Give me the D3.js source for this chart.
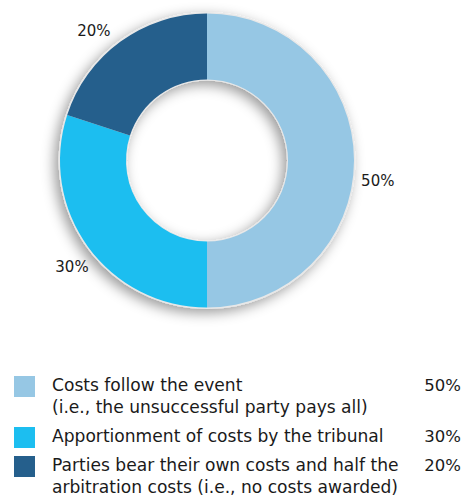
<!DOCTYPE html>
<html>
<head>
<meta charset="utf-8">
<script src="https://cdn.jsdelivr.net/npm/d3@7"></script>
<style>
  html, body { margin: 0; padding: 0; background: #ffffff; }
  svg { display: block; }
  text { font-family: "DejaVu Sans", "Liberation Sans", Arial, sans-serif; fill: #1a1a1a; }
</style>
</head>
<body>
<svg id="chart" width="464" height="497"></svg>
<script>
// Allocation of arbitration costs
const categories = [
  ["Costs follow the event", "(i.e., the unsuccessful party pays all)"],
  ["Apportionment of costs by the tribunal"],
  ["Parties bear their own costs and half the", "arbitration costs (i.e., no costs awarded)"]
];
const values = [50, 30, 20];
const colors = ["#96c7e4", "#1cbef0", "#255f8c"];

const svg = d3.select("#chart");
const cx = 207, cy = 160.5;
const outerR = 147, innerR = 81;

// Soft shadow cast toward the lower left
const defs = svg.append("defs");
const f = defs.append("filter").attr("id", "shadow")
  .attr("x", "-30%").attr("y", "-30%").attr("width", "160%").attr("height", "160%");
f.append("feDropShadow")
  .attr("dx", -4).attr("dy", 4).attr("stdDeviation", 6.5)
  .attr("flood-color", "#000").attr("flood-opacity", 0.4);

const pie = d3.pie().sort(null).value(d => d);
const arcs = pie(values);
const arc = d3.arc().innerRadius(innerR).outerRadius(outerR);

const g = svg.append("g").attr("transform", `translate(${cx},${cy})`);

// ring outline + shadow
g.append("path")
  .attr("d", d3.arc().innerRadius(innerR - 1).outerRadius(outerR + 1.5)({startAngle: 0, endAngle: 2 * Math.PI}))
  .attr("fill", "#e8e8e8")
  .attr("filter", "url(#shadow)");

g.selectAll("path.slice")
  .data(arcs)
  .join("path")
  .attr("class", "slice")
  .attr("d", arc)
  .attr("fill", (d, i) => colors[i]);

// Percentage labels around the ring
const labelArc = d3.arc().innerRadius(172).outerRadius(172);
const angleNudge = [0.12, -0.04, -0.09];
g.selectAll("text.pct")
  .data(arcs)
  .join("text")
  .attr("class", "pct")
  .attr("transform", (d, i) => {
    const a = (d.startAngle + d.endAngle) / 2 + angleNudge[i];
    const c = labelArc.centroid({startAngle: a, endAngle: a});
    return `translate(${c[0]},${c[1]})`;
  })
  .attr("text-anchor", "middle")
  .attr("dominant-baseline", "central")
  .style("font-size", "15px")
  .text(d => d.value + "%");

// Legend
const lineH = 22, itemGap = 29;
let baseline = 391;
const legend = svg.append("g");
categories.forEach((lines, i) => {
  const item = legend.append("g");
  item.append("rect")
    .attr("x", 14).attr("y", baseline - 15)
    .attr("width", 21).attr("height", 21)
    .attr("fill", colors[i]);
  lines.forEach((t, j) => {
    item.append("text")
      .attr("x", 52).attr("y", baseline + j * lineH)
      .style("font-size", "17.1px")
      .text(t);
  });
  item.append("text")
    .attr("x", 461).attr("y", baseline)
    .attr("text-anchor", "end")
    .style("font-size", "16.5px")
    .text(values[i] + "%");
  baseline += (lines.length - 1) * lineH + itemGap;
});
</script>
</body>
</html>
